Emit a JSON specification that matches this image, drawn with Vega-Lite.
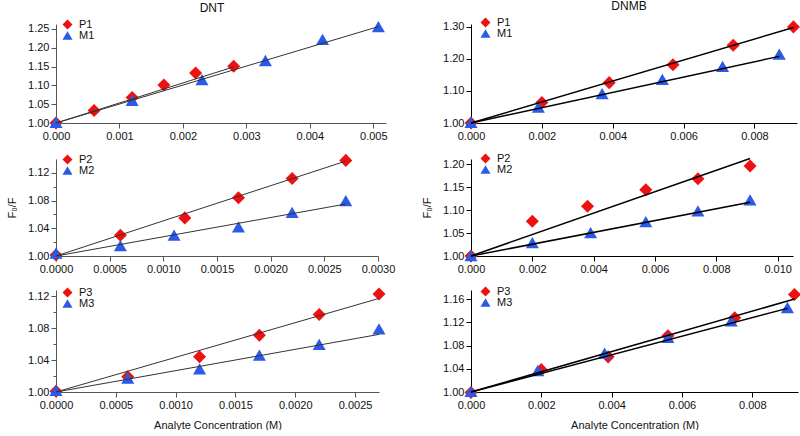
{
  "$schema": "https://vega.github.io/schema/vega-lite/v6.json",
  "background": "white",
  "padding": {"left": 6, "top": 0, "right": 0, "bottom": 0},
  "config": {
    "view": {"stroke": null},
    "font": "Liberation Sans",
    "axis": {"labelFont": "Liberation Sans", "labelFontSize": 11, "labelColor": "#111", "titleFont": "Liberation Sans", "titleFontSize": 11, "titleFontWeight": "normal", "titleColor": "#111", "grid": false, "tickSize": 5, "labelPadding": 2, "domainColor": "#555", "tickColor": "#555", "labelFlush": false, "labelOverlap": false},
    "legend": {"orient": "none", "title": null, "labelFont": "Liberation Sans", "labelFontSize": 11, "labelColor": "#111", "symbolSize": 100, "rowPadding": -3, "labelOffset": 6, "padding": 0, "symbolStrokeWidth": 0},
    "title": {"font": "Liberation Sans", "fontSize": 12, "fontWeight": "normal", "color": "#111", "anchor": "middle"}
  },
  "data": {"values": [
    {"p": "TL", "k": "d", "s": "P1", "x": 0, "y": 1.000},
    {"p": "TL", "k": "d", "s": "P1", "x": 0.0006, "y": 1.033},
    {"p": "TL", "k": "d", "s": "P1", "x": 0.0012, "y": 1.068},
    {"p": "TL", "k": "d", "s": "P1", "x": 0.0017, "y": 1.101},
    {"p": "TL", "k": "d", "s": "P1", "x": 0.0022, "y": 1.133},
    {"p": "TL", "k": "d", "s": "P1", "x": 0.0028, "y": 1.151},
    {"p": "TL", "k": "d", "s": "M1", "x": 0, "y": 1.002},
    {"p": "TL", "k": "d", "s": "M1", "x": 0.0012, "y": 1.060},
    {"p": "TL", "k": "d", "s": "M1", "x": 0.0023, "y": 1.115},
    {"p": "TL", "k": "d", "s": "M1", "x": 0.0033, "y": 1.166},
    {"p": "TL", "k": "d", "s": "M1", "x": 0.0042, "y": 1.222},
    {"p": "TL", "k": "d", "s": "M1", "x": 0.00508, "y": 1.256},
    {"p": "TL", "k": "f", "s": "P1", "x": 0, "y": 1.0},
    {"p": "TL", "k": "f", "s": "P1", "x": 0.0028, "y": 1.149},
    {"p": "TL", "k": "f", "s": "M1", "x": 0, "y": 1.0},
    {"p": "TL", "k": "f", "s": "M1", "x": 0.00508, "y": 1.256},

    {"p": "TR", "k": "d", "s": "P1", "x": 0, "y": 1.000},
    {"p": "TR", "k": "d", "s": "P1", "x": 0.0020, "y": 1.064},
    {"p": "TR", "k": "d", "s": "P1", "x": 0.0039, "y": 1.126},
    {"p": "TR", "k": "d", "s": "P1", "x": 0.0057, "y": 1.182},
    {"p": "TR", "k": "d", "s": "P1", "x": 0.0074, "y": 1.243},
    {"p": "TR", "k": "d", "s": "P1", "x": 0.0091, "y": 1.300},
    {"p": "TR", "k": "d", "s": "M1", "x": 0, "y": 1.002},
    {"p": "TR", "k": "d", "s": "M1", "x": 0.0019, "y": 1.050},
    {"p": "TR", "k": "d", "s": "M1", "x": 0.0037, "y": 1.092},
    {"p": "TR", "k": "d", "s": "M1", "x": 0.0054, "y": 1.136},
    {"p": "TR", "k": "d", "s": "M1", "x": 0.0071, "y": 1.177},
    {"p": "TR", "k": "d", "s": "M1", "x": 0.0087, "y": 1.215},
    {"p": "TR", "k": "f", "s": "P1", "x": 0, "y": 1.0},
    {"p": "TR", "k": "f", "s": "P1", "x": 0.0091, "y": 1.298},
    {"p": "TR", "k": "f", "s": "M1", "x": 0, "y": 1.0},
    {"p": "TR", "k": "f", "s": "M1", "x": 0.0087, "y": 1.208},

    {"p": "ML", "k": "d", "s": "P2", "x": 0, "y": 1.0015},
    {"p": "ML", "k": "d", "s": "P2", "x": 0.0006, "y": 1.030},
    {"p": "ML", "k": "d", "s": "P2", "x": 0.0012, "y": 1.055},
    {"p": "ML", "k": "d", "s": "P2", "x": 0.0017, "y": 1.084},
    {"p": "ML", "k": "d", "s": "P2", "x": 0.0022, "y": 1.112},
    {"p": "ML", "k": "d", "s": "P2", "x": 0.0027, "y": 1.138},
    {"p": "ML", "k": "d", "s": "M2", "x": 0, "y": 1.004},
    {"p": "ML", "k": "d", "s": "M2", "x": 0.0006, "y": 1.015},
    {"p": "ML", "k": "d", "s": "M2", "x": 0.0011, "y": 1.030},
    {"p": "ML", "k": "d", "s": "M2", "x": 0.0017, "y": 1.042},
    {"p": "ML", "k": "d", "s": "M2", "x": 0.0022, "y": 1.063},
    {"p": "ML", "k": "d", "s": "M2", "x": 0.0027, "y": 1.080},
    {"p": "ML", "k": "f", "s": "P2", "x": 0, "y": 1.0},
    {"p": "ML", "k": "f", "s": "P2", "x": 0.0027, "y": 1.137},
    {"p": "ML", "k": "f", "s": "M2", "x": 0, "y": 1.0},
    {"p": "ML", "k": "f", "s": "M2", "x": 0.0027, "y": 1.075},

    {"p": "MR", "k": "d", "s": "P2", "x": 0, "y": 1.000},
    {"p": "MR", "k": "d", "s": "P2", "x": 0.0020, "y": 1.0755},
    {"p": "MR", "k": "d", "s": "P2", "x": 0.0038, "y": 1.108},
    {"p": "MR", "k": "d", "s": "P2", "x": 0.0057, "y": 1.144},
    {"p": "MR", "k": "d", "s": "P2", "x": 0.0074, "y": 1.168},
    {"p": "MR", "k": "d", "s": "P2", "x": 0.0091, "y": 1.196},
    {"p": "MR", "k": "d", "s": "M2", "x": 0, "y": 1.001},
    {"p": "MR", "k": "d", "s": "M2", "x": 0.0020, "y": 1.029},
    {"p": "MR", "k": "d", "s": "M2", "x": 0.0039, "y": 1.051},
    {"p": "MR", "k": "d", "s": "M2", "x": 0.0057, "y": 1.075},
    {"p": "MR", "k": "d", "s": "M2", "x": 0.0074, "y": 1.098},
    {"p": "MR", "k": "d", "s": "M2", "x": 0.0091, "y": 1.122},
    {"p": "MR", "k": "f", "s": "P2", "x": 0, "y": 1.0},
    {"p": "MR", "k": "f", "s": "P2", "x": 0.0091, "y": 1.212},
    {"p": "MR", "k": "f", "s": "M2", "x": 0, "y": 1.0},
    {"p": "MR", "k": "f", "s": "M2", "x": 0.0091, "y": 1.117},

    {"p": "BL", "k": "d", "s": "P3", "x": 0, "y": 1.001},
    {"p": "BL", "k": "d", "s": "P3", "x": 0.0006, "y": 1.019},
    {"p": "BL", "k": "d", "s": "P3", "x": 0.0012, "y": 1.044},
    {"p": "BL", "k": "d", "s": "P3", "x": 0.0017, "y": 1.071},
    {"p": "BL", "k": "d", "s": "P3", "x": 0.0022, "y": 1.097},
    {"p": "BL", "k": "d", "s": "P3", "x": 0.0027, "y": 1.1225},
    {"p": "BL", "k": "d", "s": "M3", "x": 0, "y": 1.002},
    {"p": "BL", "k": "d", "s": "M3", "x": 0.0006, "y": 1.0175},
    {"p": "BL", "k": "d", "s": "M3", "x": 0.0012, "y": 1.029},
    {"p": "BL", "k": "d", "s": "M3", "x": 0.0017, "y": 1.046},
    {"p": "BL", "k": "d", "s": "M3", "x": 0.0022, "y": 1.0595},
    {"p": "BL", "k": "d", "s": "M3", "x": 0.0027, "y": 1.079},
    {"p": "BL", "k": "f", "s": "P3", "x": 0, "y": 1.0},
    {"p": "BL", "k": "f", "s": "P3", "x": 0.0027, "y": 1.117},
    {"p": "BL", "k": "f", "s": "M3", "x": 0, "y": 1.0},
    {"p": "BL", "k": "f", "s": "M3", "x": 0.0027, "y": 1.072},

    {"p": "BR", "k": "d", "s": "P3", "x": 0, "y": 0.999},
    {"p": "BR", "k": "d", "s": "P3", "x": 0.0020, "y": 1.0385},
    {"p": "BR", "k": "d", "s": "P3", "x": 0.0039, "y": 1.0605},
    {"p": "BR", "k": "d", "s": "P3", "x": 0.0056, "y": 1.097},
    {"p": "BR", "k": "d", "s": "P3", "x": 0.0075, "y": 1.128},
    {"p": "BR", "k": "d", "s": "P3", "x": 0.0092, "y": 1.168},
    {"p": "BR", "k": "d", "s": "M3", "x": 0, "y": 1.001},
    {"p": "BR", "k": "d", "s": "M3", "x": 0.0019, "y": 1.037},
    {"p": "BR", "k": "d", "s": "M3", "x": 0.0038, "y": 1.067},
    {"p": "BR", "k": "d", "s": "M3", "x": 0.0056, "y": 1.094},
    {"p": "BR", "k": "d", "s": "M3", "x": 0.0074, "y": 1.1225},
    {"p": "BR", "k": "d", "s": "M3", "x": 0.0090, "y": 1.1455},
    {"p": "BR", "k": "f", "s": "P3", "x": 0, "y": 1.0},
    {"p": "BR", "k": "f", "s": "P3", "x": 0.0092, "y": 1.160},
    {"p": "BR", "k": "f", "s": "M3", "x": 0, "y": 1.0},
    {"p": "BR", "k": "f", "s": "M3", "x": 0.0090, "y": 1.144}
  ]},
  "columns": 2,
  "spacing": {"row": 12, "column": 26},
  "resolve": {"scale": {"x": "independent", "y": "independent", "color": "independent", "shape": "independent"}, "legend": {"color": "independent", "shape": "independent"}},
  "concat": [
    {
      "width": 330, "height": 99,
      "title": {"text": "DNT", "dx": -9},
      "transform": [{"filter": "datum.p === 'TL'"}],
      "encoding": {
        "x": {"field": "x", "type": "quantitative", "scale": {"domain": [0, 0.0052], "nice": false, "zero": false}, "axis": {"title": null, "values": [0, 0.001, 0.002, 0.003, 0.004, 0.005], "format": ".3f"}},
        "y": {"field": "y", "type": "quantitative", "scale": {"domain": [1.0, 1.263], "nice": false, "zero": false}, "axis": {"title": null, "values": [1.0, 1.05, 1.1, 1.15, 1.2, 1.25], "format": ".2f"}}
      },
      "layer": [
        {"transform": [{"filter": "datum.k === 'd'"}], "mark": {"type": "point", "filled": true, "opacity": 1, "size": 170},
         "encoding": {
           "color": {"field": "s", "type": "nominal", "scale": {"domain": ["P1", "M1"], "range": ["#ee1111", "#2a5ae6"]}, "legend": {"legendX": 6, "legendY": -5}},
           "shape": {"field": "s", "type": "nominal", "scale": {"domain": ["P1", "M1"], "range": ["diamond", "triangle-up"]}, "legend": {"legendX": 6, "legendY": -5}}
         }},
        {"transform": [{"filter": "datum.k === 'f'"}], "mark": {"type": "line", "color": "#333", "strokeWidth": 1},
         "encoding": {"detail": {"field": "s"}}}
      ]
    },
    {
      "width": 326, "height": 99,
      "title": {"text": "DNMB", "dx": -5},
      "transform": [{"filter": "datum.p === 'TR'"}],
      "encoding": {
        "x": {"field": "x", "type": "quantitative", "scale": {"domain": [0, 0.0092], "nice": false, "zero": false}, "axis": {"title": null, "values": [0, 0.002, 0.004, 0.006, 0.008], "format": ".3f", "domainColor": "#000", "tickColor": "#000"}},
        "y": {"field": "y", "type": "quantitative", "scale": {"domain": [1.0, 1.309], "nice": false, "zero": false}, "axis": {"title": null, "values": [1.0, 1.1, 1.2, 1.3], "format": ".2f", "domainColor": "#000", "tickColor": "#000"}}
      },
      "layer": [
        {"transform": [{"filter": "datum.k === 'd'"}], "mark": {"type": "point", "filled": true, "opacity": 1, "size": 170},
         "encoding": {
           "color": {"field": "s", "type": "nominal", "scale": {"domain": ["P1", "M1"], "range": ["#ee1111", "#2a5ae6"]}, "legend": {"legendX": 9, "legendY": -7}},
           "shape": {"field": "s", "type": "nominal", "scale": {"domain": ["P1", "M1"], "range": ["diamond", "triangle-up"]}, "legend": {"legendX": 9, "legendY": -7}}
         }},
        {"transform": [{"filter": "datum.k === 'f'"}], "mark": {"type": "line", "color": "#000", "strokeWidth": 1.5},
         "encoding": {"detail": {"field": "s"}}}
      ]
    },
    {
      "width": 322, "height": 97,
      "transform": [{"filter": "datum.p === 'ML'"}],
      "encoding": {
        "x": {"field": "x", "type": "quantitative", "scale": {"domain": [0, 0.003], "nice": false, "zero": false}, "axis": {"title": null, "values": [0, 0.0005, 0.001, 0.0015, 0.002, 0.0025, 0.003], "format": ".4f"}}
      },
      "layer": [
        {
          "encoding": {
            "y": {"field": "y", "type": "quantitative", "scale": {"domain": [1.0, 1.14], "nice": false, "zero": false}, "axis": {"title": "F₀/F", "titlePadding": 10, "values": [1.0, 1.04, 1.08, 1.12], "format": ".2f"}}
          },
          "layer": [
            {"transform": [{"filter": "datum.k === 'd'"}], "mark": {"type": "point", "filled": true, "opacity": 1, "size": 170},
             "encoding": {
               "color": {"field": "s", "type": "nominal", "scale": {"domain": ["P2", "M2"], "range": ["#ee1111", "#2a5ae6"]}, "legend": {"legendX": 6, "legendY": -5}},
               "shape": {"field": "s", "type": "nominal", "scale": {"domain": ["P2", "M2"], "range": ["diamond", "triangle-up"]}, "legend": {"legendX": 6, "legendY": -5}}
             }},
            {"transform": [{"filter": "datum.k === 'f'"}], "mark": {"type": "line", "color": "#333", "strokeWidth": 1},
             "encoding": {"detail": {"field": "s"}}}
          ]
        },
        {
          "transform": [{"filter": "datum.k === 'f'"}],
          "mark": {"type": "point", "opacity": 0},
          "encoding": {"y": {"field": "y", "type": "quantitative", "axis": {"orient": "left", "title": null, "values": [1.02, 1.06, 1.10], "labels": false, "domain": false, "tickSize": 3}}}
        }
      ],
      "resolve": {"axis": {"y": "independent"}}
    },
    {
      "width": 322, "height": 97,
      "transform": [{"filter": "datum.p === 'MR'"}],
      "encoding": {
        "x": {"field": "x", "type": "quantitative", "scale": {"domain": [0, 0.0105], "nice": false, "zero": false}, "axis": {"title": null, "values": [0, 0.002, 0.004, 0.006, 0.008, 0.01], "format": ".3f", "domainColor": "#000", "tickColor": "#000"}},
        "y": {"field": "y", "type": "quantitative", "scale": {"domain": [1.0, 1.211], "nice": false, "zero": false}, "axis": {"title": "F₀/F", "titlePadding": 10, "values": [1.0, 1.05, 1.1, 1.15, 1.2], "format": ".2f", "domainColor": "#000", "tickColor": "#000"}}
      },
      "layer": [
        {"transform": [{"filter": "datum.k === 'd'"}], "mark": {"type": "point", "filled": true, "opacity": 1, "size": 170},
         "encoding": {
           "color": {"field": "s", "type": "nominal", "scale": {"domain": ["P2", "M2"], "range": ["#ee1111", "#2a5ae6"]}, "legend": {"legendX": 9, "legendY": -6}},
           "shape": {"field": "s", "type": "nominal", "scale": {"domain": ["P2", "M2"], "range": ["diamond", "triangle-up"]}, "legend": {"legendX": 9, "legendY": -6}}
         }},
        {"transform": [{"filter": "datum.k === 'f'"}], "mark": {"type": "line", "color": "#000", "strokeWidth": 1.5},
         "encoding": {"detail": {"field": "s"}}}
      ]
    },
    {
      "width": 323, "height": 102,
      "transform": [{"filter": "datum.p === 'BL'"}],
      "encoding": {
        "x": {"field": "x", "type": "quantitative", "scale": {"domain": [0, 0.0027], "nice": false, "zero": false}, "axis": {"title": "Analyte Concentration (M)", "titlePadding": 9, "values": [0, 0.0005, 0.001, 0.0015, 0.002, 0.0025], "format": ".4f"}}
      },
      "layer": [
        {
          "encoding": {
            "y": {"field": "y", "type": "quantitative", "scale": {"domain": [1.0, 1.1275], "nice": false, "zero": false}, "axis": {"title": null, "values": [1.0, 1.04, 1.08, 1.12], "format": ".2f"}}
          },
          "layer": [
            {"transform": [{"filter": "datum.k === 'd'"}], "mark": {"type": "point", "filled": true, "opacity": 1, "size": 170},
             "encoding": {
               "color": {"field": "s", "type": "nominal", "scale": {"domain": ["P3", "M3"], "range": ["#ee1111", "#2a5ae6"]}, "legend": {"legendX": 6, "legendY": -3}},
               "shape": {"field": "s", "type": "nominal", "scale": {"domain": ["P3", "M3"], "range": ["diamond", "triangle-up"]}, "legend": {"legendX": 6, "legendY": -3}}
             }},
            {"transform": [{"filter": "datum.k === 'f'"}], "mark": {"type": "line", "color": "#333", "strokeWidth": 1},
             "encoding": {"detail": {"field": "s"}}}
          ]
        },
        {
          "transform": [{"filter": "datum.k === 'f'"}],
          "mark": {"type": "point", "opacity": 0},
          "encoding": {"y": {"field": "y", "type": "quantitative", "axis": {"orient": "left", "title": null, "values": [1.02, 1.06, 1.10], "labels": false, "domain": false, "tickSize": 3}}}
        }
      ],
      "resolve": {"axis": {"y": "independent"}}
    },
    {
      "width": 327, "height": 102,
      "transform": [{"filter": "datum.p === 'BR'"}],
      "encoding": {
        "x": {"field": "x", "type": "quantitative", "scale": {"domain": [0, 0.0093], "nice": false, "zero": false}, "axis": {"title": "Analyte Concentration (M)", "titlePadding": 9, "values": [0, 0.002, 0.004, 0.006, 0.008], "format": ".3f", "domainColor": "#000", "tickColor": "#000"}},
        "y": {"field": "y", "type": "quantitative", "scale": {"domain": [1.0, 1.1756], "nice": false, "zero": false}, "axis": {"title": null, "values": [1.0, 1.04, 1.08, 1.12, 1.16], "format": ".2f", "domainColor": "#000", "tickColor": "#000"}}
      },
      "layer": [
        {"transform": [{"filter": "datum.k === 'd'"}], "mark": {"type": "point", "filled": true, "opacity": 1, "size": 170},
         "encoding": {
           "color": {"field": "s", "type": "nominal", "scale": {"domain": ["P3", "M3"], "range": ["#ee1111", "#2a5ae6"]}, "legend": {"legendX": 9, "legendY": -4}},
           "shape": {"field": "s", "type": "nominal", "scale": {"domain": ["P3", "M3"], "range": ["diamond", "triangle-up"]}, "legend": {"legendX": 9, "legendY": -4}}
         }},
        {"transform": [{"filter": "datum.k === 'f'"}], "mark": {"type": "line", "color": "#000", "strokeWidth": 1.5},
         "encoding": {"detail": {"field": "s"}}}
      ]
    }
  ]
}
